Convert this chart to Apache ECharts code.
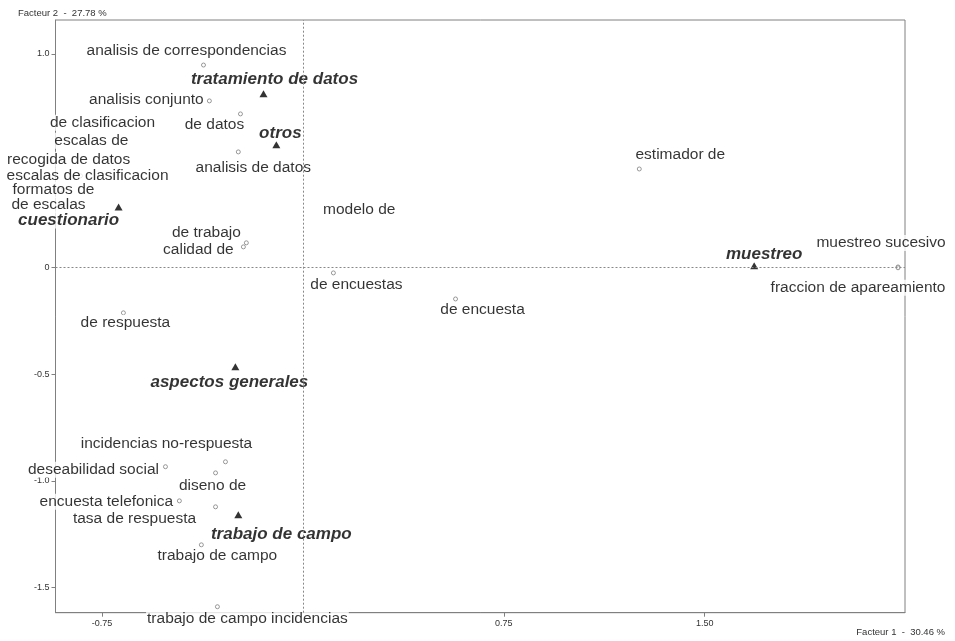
<!DOCTYPE html>
<html>
<head>
<meta charset="utf-8">
<script src="https://cdn.jsdelivr.net/npm/echarts@6/dist/echarts.min.js"></script>
<style>html,body{margin:0;padding:0;background:#fff}#c{width:955px;height:641px}</style>
</head>
<body>
<div id="c"></div>
<script>
// ---- data ----
const catNames = ['tratamiento de datos', 'otros', 'cuestionario', 'muestreo', 'aspectos generales', 'trabajo de campo'];
const catX = [-0.147, -0.099, -0.688, 1.685, -0.252, -0.241];
const catY = [0.813, 0.574, 0.283, 0.007, -0.466, -1.159];

const wordNames = ['analisis de correspondencias', 'analisis conjunto', 'de datos', 'de clasificacion', 'escalas de',
  'recogida de datos', 'escalas de clasificacion', 'formatos de', 'de escalas', 'analisis de datos', 'modelo de',
  'de trabajo', 'calidad de', 'estimador de', 'muestreo sucesivo', 'fraccion de apareamiento', 'de encuestas',
  'de encuesta', 'de respuesta', 'incidencias no-respuesta', 'deseabilidad social', 'diseno de',
  'encuesta telefonica', 'tasa de respuesta', 'trabajo de campo', 'trabajo de campo incidencias'];
const wordX = [-0.371, -0.349, -0.233, -0.774, -0.812, -0.897, -0.830, -0.905, -0.905, -0.241, 0.177,
  -0.211, -0.222, 1.256, 2.222, 2.222, 0.114, 0.570, -0.670, -0.289, -0.513, -0.326, -0.461, -0.326, -0.379, -0.319];
const wordY = [0.948, 0.780, 0.719, 0.677, 0.588, 0.504, 0.429, 0.363, 0.293, 0.541, 0.265,
  0.115, 0.096, 0.461, 0.002, -0.002, -0.026, -0.148, -0.213, -0.911, -0.934, -0.963, -1.094, -1.122, -1.300, -1.590];

const xTicks = [-0.75, 0.75, 1.5];
const yTicks = [1.0, 0, -0.5, -1.0, -1.5];
const xTitle = 'Facteur 1  -  30.46 %';
const yTitle = 'Facteur 2  -  27.78 %';

// ---- label styling (pixel offsets, not data) ----
const catOffset = {
  'tratamiento de datos': [11, -15], 'otros': [4, -12], 'cuestionario': [-50, 13],
  'muestreo': [10, -12], 'aspectos generales': [-6, 15], 'trabajo de campo': [43, 20]
};
const wordOffset = {
  'analisis de correspondencias': [-17, -14], 'analisis conjunto': [-63, -1], 'de datos': [-26, 11],
  'de clasificacion': [7, 0], 'escalas de': [6, -1], 'recogida de datos': [6, 0],
  'escalas de clasificacion': [7, 0], 'formatos de': [-7, 0], 'de escalas': [-12, 0],
  'analisis de datos': [15, 16], 'modelo de': [9, -1], 'de trabajo': [-40, -10], 'calidad de': [-45, 3],
  'estimador de': [41, -14], 'muestreo sucesivo': [-17, -24], 'fraccion de apareamiento': [-40, 20],
  'de encuestas': [23, 12], 'de encuesta': [27, 11], 'de respuesta': [2, 10],
  'incidencias no-respuesta': [-59, -18], 'deseabilidad social': [-72, 3], 'diseno de': [-3, 13],
  'encuesta telefonica': [-73, 1], 'tasa de respuesta': [-81, 12], 'trabajo de campo': [16, 11],
  'trabajo de campo incidencias': [30, 12]
};

const FONT = '"Liberation Sans", Arial, sans-serif';
const catData = catNames.map((n, i) => ({
  name: n, value: [catX[i], catY[i]],
  label: { offset: catOffset[n] }
}));
const wordData = wordNames.map((n, i) => ({
  name: n, value: [wordX[i], wordY[i]],
  label: { offset: wordOffset[n] }
}));

const chart = echarts.init(document.getElementById('c'), null, { renderer: 'canvas' });
chart.setOption({
  animation: false,
  backgroundColor: '#fff',
  title: [
    { text: yTitle, left: 13, top: 3, textStyle: { fontSize: 9.5, fontWeight: 'normal', color: '#333', fontFamily: FONT } },
    { text: xTitle, right: 5, top: 622, textStyle: { fontSize: 9.5, fontWeight: 'normal', color: '#333', fontFamily: FONT } }
  ],
  grid: { left: 55.5, right: 50, top: 20, bottom: 28.3, show: true, borderColor: '#808080', borderWidth: 1, backgroundColor: 'transparent' },
  xAxis: {
    type: 'value', min: -0.9235, max: 2.248,
    splitLine: { show: false },
    axisLine: { show: true, onZero: false, lineStyle: { color: '#808080' } },
    axisTick: { show: true, length: 4, customValues: xTicks, lineStyle: { color: '#808080' } },
    axisLabel: { customValues: xTicks, fontSize: 9, color: '#333', margin: 6, fontFamily: FONT,
      formatter: v => v.toFixed(2) }
  },
  yAxis: {
    type: 'value', min: -1.618, max: 1.159,
    splitLine: { show: false },
    axisLine: { show: true, onZero: false, lineStyle: { color: '#808080' } },
    axisTick: { show: true, length: 4, customValues: yTicks, lineStyle: { color: '#808080' } },
    axisLabel: { customValues: yTicks, fontSize: 9, color: '#333', margin: 6, fontFamily: FONT,
      formatter: v => (v === 0 ? '0' : v.toFixed(1)) }
  },
  series: [
    {
      type: 'scatter', name: 'mots', data: wordData,
      symbol: 'circle', symbolSize: 4,
      itemStyle: { color: '#fff', borderColor: '#808080', borderWidth: 1 },
      label: {
        show: true, position: 'inside', formatter: p => p.name,
        color: '#000', fontSize: 15.5, fontFamily: FONT,
        backgroundColor: '#fff', padding: [0, 1]
      },
      markLine: {
        silent: true, symbol: 'none', label: { show: false },
        lineStyle: { color: '#888', type: [2, 2], width: 1 },
        data: [{ xAxis: 0 }, { yAxis: 0 }]
      },
      emphasis: { disabled: true }
    },
    {
      type: 'scatter', name: 'modalites', data: catData,
      symbol: 'triangle', symbolSize: [8, 7],
      itemStyle: { color: '#000' },
      label: {
        show: true, position: 'inside', formatter: p => p.name,
        color: '#000', fontSize: 17, fontStyle: 'italic', fontWeight: 'bold', fontFamily: FONT,
        backgroundColor: '#fff', padding: [0, 1]
      },
      emphasis: { disabled: true }
    }
  ]
});
</script>
</body>
</html>
